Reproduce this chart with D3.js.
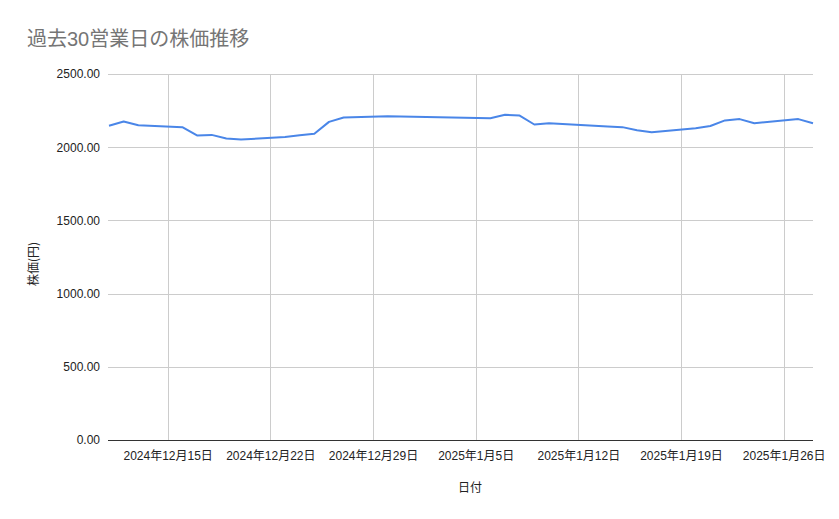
<!DOCTYPE html>
<html lang="ja">
<head>
<meta charset="UTF-8">
<title>過去30営業日の株価推移</title>
<script src="https://d3js.org/d3.v7.min.js"></script>
<style>
  body { margin: 0; background: #fff; }
  svg { font-family: "Liberation Sans", Arial, "Noto Sans CJK JP", sans-serif; }
</style>
</head>
<body>
<div id="chart"></div>
<script>
// 30 business days (JP market)
const dates = [
  "2024-12-11", "2024-12-12", "2024-12-13", "2024-12-16", "2024-12-17",
  "2024-12-18", "2024-12-19", "2024-12-20", "2024-12-23", "2024-12-24",
  "2024-12-25", "2024-12-26", "2024-12-27", "2024-12-30", "2025-01-06",
  "2025-01-07", "2025-01-08", "2025-01-09", "2025-01-10", "2025-01-14",
  "2025-01-15", "2025-01-16", "2025-01-17", "2025-01-20", "2025-01-21",
  "2025-01-22", "2025-01-23", "2025-01-24", "2025-01-27", "2025-01-28"
];
const prices = [
  2147, 2176, 2150, 2137, 2080,
  2084, 2059, 2052, 2070, 2082,
  2092, 2173, 2203, 2212, 2198,
  2221, 2216, 2155, 2164, 2141,
  2137, 2116, 2102, 2129, 2145,
  2183, 2192, 2164, 2192, 2164
];
const xTicks = ["2024-12-15", "2024-12-22", "2024-12-29", "2025-01-05", "2025-01-12", "2025-01-19", "2025-01-26"];
const yTicks = [0, 500, 1000, 1500, 2000, 2500];

const width = 839, height = 519;
const margin = { top: 74, right: 26, bottom: 79, left: 109 };

const parse = d3.utcParse("%Y-%m-%d");
const data = dates.map((d, i) => ({ date: parse(d), value: prices[i] }));

const svg = d3.select("#chart").append("svg")
  .attr("width", width)
  .attr("height", height);

const x = d3.scaleUtc()
  .domain(d3.extent(data, d => d.date))
  .range([margin.left, width - margin.right]);

const y = d3.scaleLinear()
  .domain([0, 2500])
  .range([height - margin.bottom, margin.top]);

// gridlines
svg.append("g")
  .selectAll("line")
  .data(yTicks)
  .join("line")
  .attr("x1", margin.left - 1)
  .attr("x2", width - margin.right)
  .attr("y1", d => Math.round(y(d)) + 0.5)
  .attr("y2", d => Math.round(y(d)) + 0.5)
  .attr("stroke", d => d === 0 ? "#333" : "#cccccc")
  .attr("stroke-width", 1);

svg.append("g")
  .selectAll("line")
  .data(xTicks.map(parse))
  .join("line")
  .attr("x1", d => Math.round(x(d)) + 0.5)
  .attr("x2", d => Math.round(x(d)) + 0.5)
  .attr("y1", margin.top)
  .attr("y2", y(0))
  .attr("stroke", "#cccccc");

// y axis labels
const yAxis = svg.append("g")
  .attr("transform", `translate(${margin.left - 6},0)`)
  .call(d3.axisLeft(y).tickValues(yTicks).tickFormat(d3.format(".2f")).tickSize(0));
yAxis.select(".domain").remove();
yAxis.selectAll("text")
  .attr("font-size", 12)
  .attr("fill", "#222")
  .attr("font-family", "Liberation Sans, Arial, sans-serif");

// x axis labels
const xAxis = svg.append("g")
  .attr("transform", `translate(0,${y(0) + 8})`)
  .call(d3.axisBottom(x).tickValues(xTicks.map(parse))
    .tickFormat(d3.utcFormat("%Y年%-m月%-d日")).tickSize(0));
xAxis.select(".domain").remove();
xAxis.selectAll("text")
  .attr("font-size", 12)
  .attr("fill", "#222")
  .attr("font-family", "Liberation Sans, Arial, 'Noto Sans CJK JP', sans-serif");

// line
const line = d3.line()
  .x(d => x(d.date))
  .y(d => y(d.value));

svg.append("path")
  .datum(data)
  .attr("fill", "none")
  .attr("stroke", "#4a86e8")
  .attr("stroke-width", 2)
  .attr("stroke-linejoin", "round")
  .attr("d", line);

// title
svg.append("text")
  .attr("x", 27)
  .attr("y", 46)
  .attr("font-size", 20)
  .attr("fill", "#757575")
  .text("過去30営業日の株価推移");

// axis titles
svg.append("text")
  .attr("x", 470)
  .attr("y", 492)
  .attr("text-anchor", "middle")
  .attr("font-size", 12)
  .attr("fill", "#222")
  .text("日付");

svg.append("text")
  .attr("transform", "translate(38,264) rotate(-90)")
  .attr("text-anchor", "middle")
  .attr("font-size", 12)
  .attr("fill", "#222")
  .attr("font-family", "'Noto Sans CJK JP', sans-serif")
  .text("株価(円)");
</script>
</body>
</html>
